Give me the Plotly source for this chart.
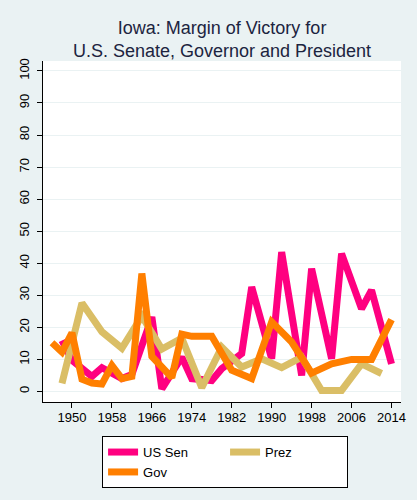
import plotly.graph_objects as go

# Iowa election margins (percentage points)
sen_years = [1948, 1950, 1954, 1956, 1960, 1962, 1966, 1968, 1972, 1974, 1978, 1980,
             1984, 1986, 1990, 1992, 1996, 1998, 2002, 2004, 2008, 2010, 2014]
sen_margin = [15.9, 9.7, 4.7, 7.4, 4.0, 5.3, 23.2, 0.8, 10.7, 4.0, 3.4, 7.1,
              11.8, 32.6, 10.2, 43.5, 5.0, 38.3, 10.2, 43.0, 25.8, 31.6, 8.6]

prez_years = [1948, 1952, 1956, 1960, 1964, 1968, 1972, 1976, 1980, 1984, 1988,
              1992, 1996, 2000, 2004, 2008, 2012]
prez_margin = [2.5, 27.6, 18.6, 13.5, 23.5, 13.2, 16.6, 1.2, 13.8, 7.6, 10.2,
               7.4, 10.7, 0.3, 0.3, 8.6, 5.6]

gov_years = [1946, 1948, 1950, 1952, 1954, 1956, 1958, 1960, 1962, 1964, 1966, 1968,
             1970, 1972, 1974, 1978, 1982, 1986, 1990, 1994, 1998, 2002, 2006, 2010, 2014]
gov_margin = [15.2, 12.3, 18.3, 3.8, 2.6, 2.3, 8.1, 4.0, 4.7, 36.8, 10.9, 7.3,
              4.3, 17.9, 17.2, 17.2, 6.6, 4.0, 21.7, 15.4, 5.7, 8.6, 10.0, 10.0, 22.4]

x_ticks = [1950, 1958, 1966, 1974, 1982, 1990, 1998, 2006, 2014]
y_ticks = [0, 10, 20, 30, 40, 50, 60, 70, 80, 90, 100]

bg = 'rgb(234,242,243)'
fig = go.Figure()

fig.add_trace(go.Scatter(x=sen_years, y=sen_margin, mode='lines', name='US Sen',
                         line=dict(color='rgb(255,0,128)', width=7)))
fig.add_trace(go.Scatter(x=prez_years, y=prez_margin, mode='lines', name='Prez',
                         line=dict(color='rgb(218,190,102)', width=7)))
fig.add_trace(go.Scatter(x=gov_years, y=gov_margin, mode='lines', name='Gov',
                         line=dict(color='rgb(255,127,0)', width=7)))

fig.update_layout(
    width=417, height=500,
    paper_bgcolor=bg, plot_bgcolor='white',
    font=dict(family='Arial, Liberation Sans', size=13, color='black'),
    title=dict(text='Iowa: Margin of Victory for<br>U.S. Senate, Governor and President',
               x=0.5, xref='paper', xanchor='center', y=0.932, yanchor='middle',
               font=dict(size=18, color='rgb(28,36,64)')),
    margin=dict(l=43, r=16, t=61, b=98, autoexpand=False),
    xaxis=dict(range=[1944.2, 2015.9], tickvals=x_ticks, showgrid=False, zeroline=False,
               showline=True, linecolor='black', linewidth=1.2, automargin=False,
               ticks='outside', ticklen=5, tickcolor='black', ticklabelstandoff=-2),
    yaxis=dict(range=[-3.3, 103.1], tickvals=y_ticks, tickangle=-90,
               showgrid=True, gridcolor=bg, gridwidth=1.2, zeroline=False,
               showline=True, linecolor='black', linewidth=1.2, automargin=False,
               ticks='outside', ticklen=5, tickcolor='black', ticklabelstandoff=3),
    legend=dict(orientation='h', x=0.165, xanchor='left', y=-0.1, yanchor='top',
                bgcolor='white', bordercolor='black', borderwidth=1,
                entrywidth=77, font=dict(size=13), tracegroupgap=0),
)

# page body has a default 8px margin; drop it so the figure sits at the corner
fig.write_html("out.html", config={'displayModeBar': False},
               post_script="document.body.style.margin='0';")
